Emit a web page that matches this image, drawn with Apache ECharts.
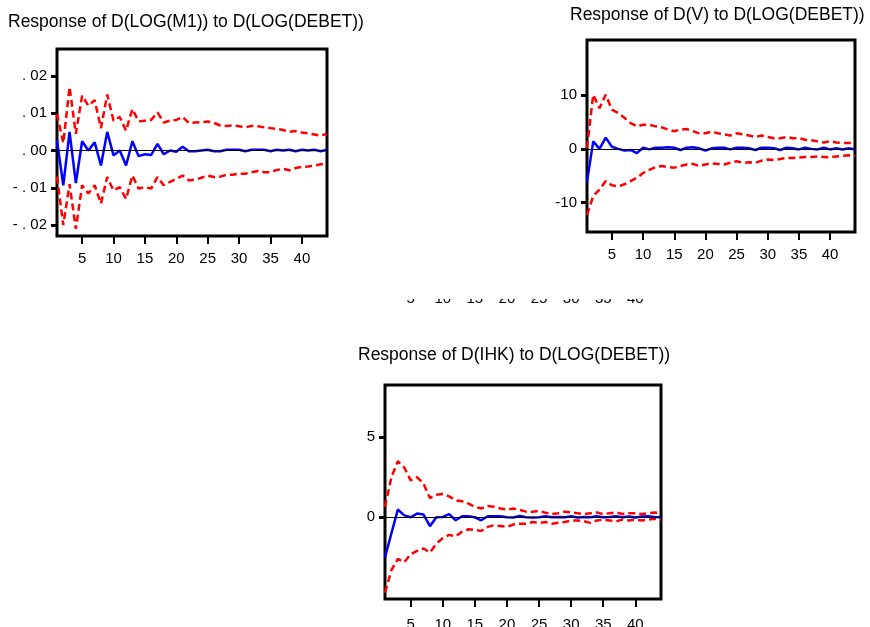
<!DOCTYPE html>
<html>
<head>
<meta charset="utf-8">
<title>Impulse responses to D(LOG(DEBET))</title>
<script src="https://cdn.jsdelivr.net/npm/echarts@6/dist/echarts.min.js"></script>
<style>
    html, body { margin: 0; padding: 0; background: #fff; }
    #chart-container { width: 870px; height: 627px; }
</style>
</head>
<body>
<div id="chart-container"></div>
<script>
// periods 1..44
var periods = ['1', '2', '3', '4', '5', '6', '7', '8', '9', '10', '11', '12', '13', '14', '15', '16',
    '17', '18', '19', '20', '21', '22', '23', '24', '25', '26', '27', '28', '29', '30', '31', '32',
    '33', '34', '35', '36', '37', '38', '39', '40', '41', '42', '43', '44'];
var xTickLabels = ['5', '10', '15', '20', '25', '30', '35', '40'];

// Response of D(LOG(M1))
var m1Resp = [0.0027, -0.0093, 0.005, -0.0087, 0.0025, 0, 0.0022, -0.004, 0.005, -0.0013,
    0, -0.004, 0.0025, -0.0015, -0.001, -0.0012, 0.0018, -0.001, 0, -0.0003,
    0.001, -0.0002, -0.0002, 0, 0.0002, -0.0002, -0.0002, 0.0002, 0.0002, 0.0002,
    -0.0002, 0.0002, 0.0002, 0.0002, -0.0002, 0.0002, 0, 0.0002, -0.0002, 0.0002,
    0, 0.0002, -0.0002, 0.0002];
var m1Upper = [0.0098, 0.002, 0.017, 0.0045, 0.0147, 0.012, 0.0135, 0.006, 0.015, 0.008,
    0.009, 0.0053, 0.0111, 0.0078, 0.008, 0.0082, 0.0102, 0.0075, 0.008, 0.0082,
    0.009, 0.0074, 0.0075, 0.0076, 0.0078, 0.0074, 0.0067, 0.0066, 0.0067, 0.0065,
    0.0062, 0.0066, 0.0065, 0.0062, 0.006, 0.0058, 0.0055, 0.005, 0.0052, 0.0048,
    0.0046, 0.0043, 0.004, 0.0045];
var m1Lower = [-0.007, -0.02, -0.009, -0.021, -0.0093, -0.0115, -0.0093, -0.0142, -0.0071, -0.0107,
    -0.0098, -0.013, -0.0067, -0.0102, -0.0098, -0.0102, -0.0071, -0.0093, -0.0084, -0.0076,
    -0.0067, -0.008, -0.0078, -0.0073, -0.0067, -0.0071, -0.007, -0.0065, -0.0065, -0.0062,
    -0.0062, -0.0058, -0.0055, -0.0058, -0.0058, -0.0052, -0.0049, -0.0053, -0.0047, -0.0044,
    -0.0043, -0.004, -0.0037, -0.0034];
var m1Ticks = [-0.02, -0.01, 0, 0.01, 0.02];
var m1TickLabels = ['- . 02', '- . 01', '. 00', '. 01', '. 02'];

// Response of D(V)
var vResp = [-6.1, 1.4, 0, 2.1, 0.4, 0, -0.3, -0.2, -0.8, 0.2,
    -0.1, 0.2, 0.2, 0.3, 0.2, -0.2, 0.2, 0.3, 0.1, -0.3,
    0.1, 0.2, 0.2, -0.1, 0.2, 0.2, 0.1, -0.2, 0.2, 0.2,
    0.1, -0.2, 0.2, 0.1, -0.1, 0.2, 0, -0.1, 0.2, -0.1,
    0.1, -0.1, 0.1, -0.1];
var vUpper = [0.2, 10.1, 7.6, 10.1, 7.3, 6.7, 5.8, 4.8, 4.2, 4.5,
    4.5, 4.2, 4.0, 3.6, 3.3, 3.6, 3.7, 3.3, 2.9, 2.9,
    3.2, 2.9, 2.7, 2.5, 2.9, 2.7, 2.5, 2.2, 2.5, 2.2,
    2.0, 2.0, 2.2, 2.0, 2.0, 1.7, 1.6, 1.4, 1.2, 1.4,
    1.2, 1.1, 1.1, 1.2];
var vLower = [-12.3, -8.8, -7.6, -6.0, -6.8, -7.0, -6.6, -6.0, -5.4, -4.5,
    -3.9, -3.4, -3.2, -3.4, -3.5, -3.2, -2.9, -2.8, -3.2, -2.9,
    -2.7, -2.8, -2.9, -2.6, -2.3, -2.6, -2.5, -2.6, -2.2, -2.0,
    -2.1, -1.9, -1.7, -1.7, -1.6, -1.5, -1.5, -1.4, -1.5, -1.6,
    -1.4, -1.3, -1.2, -1.3];
var vTicks = [-10, 0, 10];

// Response of D(IHK)
var ihkResp = [-2.5, -1.0, 0.48, 0.12, 0, 0.23, 0.17, -0.56, 0, 0.02,
    0.19, -0.19, 0.06, 0.06, 0, -0.19, 0.06, 0.06, 0.06, 0,
    -0.02, 0.08, 0, -0.02, 0, 0.06, 0, 0.02, 0, 0.06,
    -0.02, 0.02, 0, 0.06, 0, 0.02, 0.06, 0, 0.04, -0.02,
    0.04, 0.06, 0.02, 0];
var ihkUpper = [0.65, 2.5, 3.5, 3.1, 2.3, 2.5, 2.1, 1.2, 1.4, 1.45,
    1.3, 1.05, 1.0, 0.85, 0.65, 0.55, 0.7, 0.65, 0.55, 0.48,
    0.55, 0.45, 0.35, 0.35, 0.4, 0.28, 0.2, 0.25, 0.35, 0.3,
    0.25, 0.2, 0.25, 0.3, 0.2, 0.25, 0.3, 0.2, 0.25, 0.25,
    0.2, 0.25, 0.3, 0.25];
var ihkLower = [-4.7, -3.3, -2.6, -2.8, -2.3, -2.1, -1.95, -2.2, -1.65, -1.3,
    -1.1, -1.2, -0.9, -0.75, -0.8, -0.85, -0.6, -0.5, -0.55, -0.6,
    -0.45, -0.4, -0.4, -0.3, -0.35, -0.3, -0.4, -0.35, -0.3, -0.2,
    -0.2, -0.25, -0.35, -0.2, -0.15, -0.2, -0.25, -0.15, -0.2, -0.15,
    -0.2, -0.15, -0.1, -0.15];
var ihkTicks = [0, 5];

var FONT = "'Liberation Sans', Arial, sans-serif";

// panel rectangles (the bottom one's labels are also repeated, clipped, above it)
// margin is counted from the tick grid's lower edge, TICK_PAD below the panel
var TICK_PAD = 20;
var panels = [
    { left: 57, top: 49, width: 270, height: 187, margin: -5 },
    { left: 587, top: 40, width: 268, height: 192, margin: -5 },
    { left: 385, top: 385, width: 276, height: 214, margin: -2 }
];
var ghost = { left: 385, top: 251, width: 276, height: 25, margin: 15 };

// only every fifth period gets a tick and a label
var everyFifth = function (index, value) {
    return xTickLabels.indexOf(value) >= 0;
};

var dataXAxis = function (gridIndex) {
    return { type: 'category', gridIndex: gridIndex, data: periods, boundaryGap: false, show: false };
};

// tick grids straddle the panel's bottom edge; their x axis sits on y = 0 there
var tickXAxis = function (gridIndex, showTicks, margin) {
    return {
        type: 'category', gridIndex: gridIndex, data: periods, boundaryGap: false,
        axisLine: { show: false },
        splitLine: { show: false },
        axisTick: { show: showTicks, length: 8, interval: everyFifth, lineStyle: { color: '#000', width: 2 } },
        axisLabel: { interval: everyFifth, margin: margin, fontSize: 15, color: '#000', fontFamily: FONT }
    };
};

var yAxisFor = function (gridIndex, min, max, ticks, fmt) {
    return {
        type: 'value', gridIndex: gridIndex, min: min, max: max,
        axisLine: { show: false },
        splitLine: { show: false },
        axisTick: { show: true, length: 6, customValues: ticks, lineStyle: { color: '#000', width: 3 } },
        axisLabel: { customValues: ticks, margin: 10, fontSize: 15, color: '#000', fontFamily: FONT, formatter: fmt }
    };
};

var bandSeries = function (idx, vals) {
    return {
        type: 'line', xAxisIndex: idx, yAxisIndex: idx, data: vals,
        symbol: 'none', silent: true, z: 3,
        lineStyle: { color: '#ff0000', width: 2.5, type: [7, 4] }
    };
};

var respSeries = function (idx, vals) {
    return {
        type: 'line', xAxisIndex: idx, yAxisIndex: idx, data: vals,
        symbol: 'none', silent: true, z: 4,
        lineStyle: { color: '#0000ff', width: 2.5 },
        markLine: {
            silent: true, symbol: 'none', label: { show: false },
            lineStyle: { color: '#000', width: 1, type: 'solid' },
            data: [{ yAxis: 0 }]
        }
    };
};

var grids = [];
panels.forEach(function (p) {
    grids.push({ left: p.left, top: p.top, width: p.width, height: p.height, show: true,
        borderColor: '#000', borderWidth: 3, backgroundColor: '#fff', outerBoundsMode: 'none' });
});
panels.forEach(function (p) {
    grids.push({ left: p.left, top: p.top + p.height - TICK_PAD, width: p.width, height: 2 * TICK_PAD,
        show: false, outerBoundsMode: 'none' });
});
grids.push({ left: ghost.left, top: ghost.top, width: ghost.width, height: ghost.height,
    show: false, outerBoundsMode: 'none' });

var xAxes = [dataXAxis(0), dataXAxis(1), dataXAxis(2),
    tickXAxis(3, true, panels[0].margin), tickXAxis(4, true, panels[1].margin),
    tickXAxis(5, true, panels[2].margin), tickXAxis(6, false, ghost.margin)];

var yAxes = [
    yAxisFor(0, -0.0229, 0.0272, m1Ticks, function (v) {
        return m1TickLabels[m1Ticks.indexOf(Math.round(v * 100) / 100)];
    }),
    yAxisFor(1, -15.5, 20.3, vTicks),
    yAxisFor(2, -5.1, 8.25, ihkTicks)
];
[3, 4, 5].forEach(function (g) {
    yAxes.push({ type: 'value', gridIndex: g, min: -1, max: 1, show: false });
});
yAxes.push({ type: 'value', gridIndex: 6, min: -1, max: 0, show: false });

var option = {
    backgroundColor: '#fff',
    animation: false,
    title: [
        { text: 'Response of D(LOG(M1)) to D(LOG(DEBET))', left: 8, top: 13 },
        { text: 'Response of D(V) to D(LOG(DEBET))', left: 570, top: 6 },
        { text: 'Response of D(IHK) to D(LOG(DEBET))', left: 358, top: 346 }
    ].map(function (t) {
        t.padding = 0;
        t.textStyle = { fontSize: 17.5, fontWeight: 'normal', color: '#000', fontFamily: FONT };
        return t;
    }),
    grid: grids,
    xAxis: xAxes,
    yAxis: yAxes,
    series: [
        bandSeries(0, m1Upper), bandSeries(0, m1Lower), respSeries(0, m1Resp),
        bandSeries(1, vUpper), bandSeries(1, vLower), respSeries(1, vResp),
        bandSeries(2, ihkUpper), bandSeries(2, ihkLower), respSeries(2, ihkResp)
    ],
    graphic: [
        { type: 'rect', z: 100, shape: { x: 380, y: 276, width: 300, height: 23 }, style: { fill: '#fff' } }
    ]
};

var myChart = echarts.init(document.getElementById('chart-container'));
myChart.setOption(option);
</script>
</body>
</html>
